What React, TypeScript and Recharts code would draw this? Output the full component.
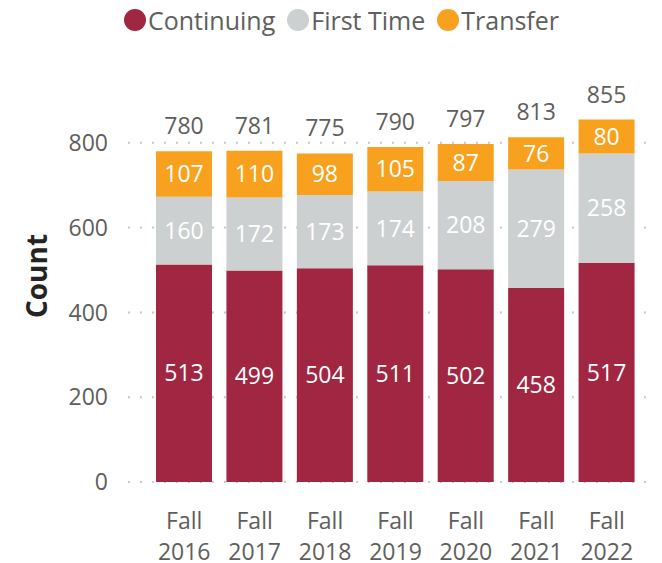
import React from 'react';
import { BarChart, Bar, XAxis, YAxis, CartesianGrid, LabelList } from 'recharts';

const terms = ['Fall 2016', 'Fall 2017', 'Fall 2018', 'Fall 2019', 'Fall 2020', 'Fall 2021', 'Fall 2022'];
const continuing = [513, 499, 504, 511, 502, 458, 517];
const firstTime = [160, 172, 173, 174, 208, 279, 258];
const transfer = [107, 110, 98, 105, 87, 76, 80];
const totals = [780, 781, 775, 790, 797, 813, 855];
const yTicks = [0, 200, 400, 600, 800];

const FONT = '"Segoe UI", "Open Sans", "Noto Sans", sans-serif';
const GREY = '#605E5C';

const series = [
  { key: 'continuing', name: 'Continuing', color: '#A02642' },
  { key: 'firstTime', name: 'First Time', color: '#CDD0D1' },
  { key: 'transfer', name: 'Transfer', color: '#F8A11E' },
];

const data = terms.map((t, i) => ({
  term: t,
  continuing: continuing[i],
  firstTime: firstTime[i],
  transfer: transfer[i],
  total: totals[i],
}));

function TermTick({ x, y, payload }: any) {
  const [a, b] = String(payload.value).split(' ');
  return (
    <text x={x} y={y} textAnchor="middle" fill={GREY} fontSize={23} fontFamily={FONT}>
      <tspan x={x} dy={39}>{a}</tspan>
      <tspan x={x} dy={31}>{b}</tspan>
    </text>
  );
}

function TotalLabel({ x, y, width, value }: any) {
  return (
    <text
      x={x + width / 2}
      y={y - 25}
      dy="0.35em"
      textAnchor="middle"
      fill={GREY}
      fontSize={23}
      fontFamily={FONT}
    >
      {value}
    </text>
  );
}

function Legend() {
  return (
    <div
      style={{
        position: 'absolute',
        top: 3,
        left: 124,
        display: 'flex',
        alignItems: 'center',
        fontFamily: FONT,
        fontSize: 25,
        color: GREY,
        whiteSpace: 'nowrap',
      }}
    >
      {series.map((s) => (
        <div key={s.key} style={{ display: 'flex', alignItems: 'center', marginRight: 12 }}>
          <span
            style={{
              width: 22,
              height: 22,
              borderRadius: 11,
              background: s.color,
              display: 'inline-block',
              marginRight: 2,
            }}
          />
          <span>{s.name}</span>
        </div>
      ))}
    </div>
  );
}

export default function App() {
  return (
    <div style={{ position: 'absolute', left: 0, top: 0, width: 662, height: 563, background: '#fff' }}>
      <Legend />
      <BarChart
        width={662}
        height={563}
        data={data}
        margin={{ top: 58, right: 7, bottom: 51, left: 0 }}
        barSize={56}
      >
        <CartesianGrid
          vertical={false}
          stroke="#C8C8C8"
          strokeWidth={2}
          strokeDasharray="2 10"
          syncWithTicks
        />
        <XAxis
          dataKey="term"
          height={30}
          axisLine={false}
          tickLine={false}
          tick={<TermTick />}
          interval={0}
          padding={{ left: 21, right: 13 }}
        />
        <YAxis
          width={128}
          domain={[0, 1000]}
          ticks={yTicks}
          axisLine={false}
          tickLine={false}
          tickSize={0}
          tickMargin={20}
          tick={{ fill: GREY, fontSize: 23, fontFamily: FONT }}
          label={{
            value: 'Count',
            angle: -90,
            position: 'insideLeft',
            dx: 32,
            dy: 6,
            style: { fill: '#252423', fontSize: 28, fontWeight: 700, fontFamily: FONT, textAnchor: 'middle' },
          }}
        />
        {series.map((s, idx) => (
          <Bar key={s.key} dataKey={s.key} name={s.name} stackId="a" fill={s.color} isAnimationActive={false}>
            <LabelList
              dataKey={s.key}
              position="center"
              fill="#FFFFFF"
              fontSize={23}
              fontFamily={FONT}
            />
            {idx === series.length - 1 && <LabelList dataKey="total" content={<TotalLabel />} />}
          </Bar>
        ))}
      </BarChart>
    </div>
  );
}
